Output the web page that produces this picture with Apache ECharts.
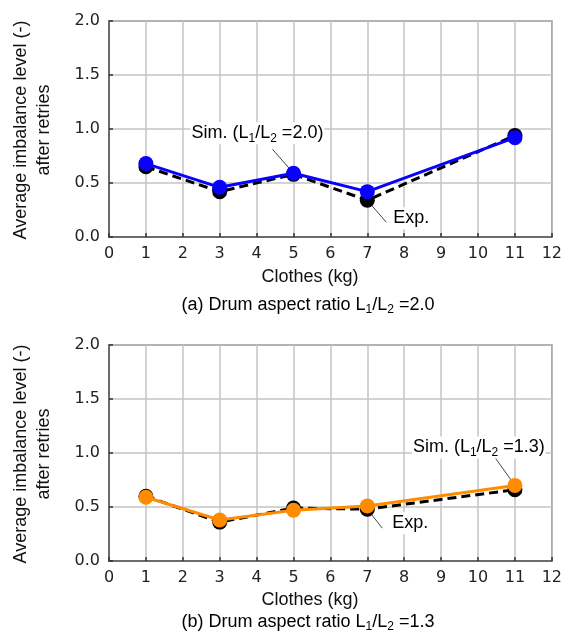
<!DOCTYPE html>
<html><head><meta charset="utf-8">
<script src="https://cdn.jsdelivr.net/npm/echarts@6/dist/echarts.min.js"></script>
<style>html,body{margin:0;padding:0;background:#fff}#c{width:565px;height:631px}</style>
</head><body><div id="c"></div>
<script>
var clothes = [1, 3, 5, 7, 11];
var expA = [0.65, 0.42, 0.58, 0.34, 0.94];
var simA = [0.68, 0.46, 0.59, 0.42, 0.92];
var expB = [0.60, 0.36, 0.49, 0.48, 0.66];
var simB = [0.59, 0.38, 0.47, 0.51, 0.70];
var xTicks = [0,1,2,3,4,5,6,7,8,9,10,11,12];
var yTicks = [0.0, 0.5, 1.0, 1.5, 2.0];

function pairs(xs, ys){ return xs.map(function(x,i){return [x, ys[i]];}); }

var chart = echarts.init(document.getElementById('c'), null, {renderer:'canvas'});
var tickFont = {fontFamily:'DejaVu Sans', fontSize:16, color:'#222'};
var txtFont = 'Liberation Sans';

function xAx(gi){
  return {type:'value', gridIndex:gi, min:xTicks[0], max:xTicks[xTicks.length-1], interval:1,
    axisLine:{show:true, lineStyle:{color:'#555', width:1.5}},
    axisTick:{show:true, inside:true, length:4, lineStyle:{color:'#333', width:1.5}},
    axisLabel:Object.assign({margin:9}, tickFont),
    splitLine:{show:true, lineStyle:{color:'#c4c4c4', width:1.5}}};
}
function yAx(gi){
  return {type:'value', gridIndex:gi, min:yTicks[0], max:yTicks[yTicks.length-1], interval:0.5,
    axisLine:{show:true, lineStyle:{color:'#555', width:1.5}},
    axisTick:{show:true, inside:true, length:4, lineStyle:{color:'#333', width:1.5}},
    axisLabel:Object.assign({margin:9, formatter:function(v){return v.toFixed(1);}}, tickFont),
    splitLine:{show:true, lineStyle:{color:'#c4c4c4', width:1.5}}};
}
function expSeries(gi, data){
  return {type:'line', xAxisIndex:gi, yAxisIndex:gi, data:pairs(clothes,data), symbol:'circle', symbolSize:15,
    itemStyle:{color:'#000'}, lineStyle:{color:'#000', width:3, type:[9,5]}, z:3, animation:false};
}
function simSeries(gi, data, col){
  return {type:'line', xAxisIndex:gi, yAxisIndex:gi, data:pairs(clothes,data), symbol:'circle', symbolSize:15,
    itemStyle:{color:col}, lineStyle:{color:col, width:3}, z:4, animation:false};
}

var richStyles = {
  n:{fontFamily:txtFont, fontSize:18, color:'#111', lineHeight:22},
  s:{fontFamily:txtFont, fontSize:12, color:'#111', lineHeight:22, verticalAlign:'bottom', padding:[7,0,0,0]}
};

chart.setOption({
  animation:false,
  grid:[
    {left:109, right:13, top:21, height:216, show:true, borderColor:'#555', borderWidth:1.5},
    {left:109, right:13, top:345, height:216, show:true, borderColor:'#555', borderWidth:1.5}
  ],
  xAxis:[xAx(0), xAx(1)],
  yAxis:[yAx(0), yAx(1)],
  series:[
    expSeries(0, expA), simSeries(0, simA, '#0a00ff'),
    expSeries(1, expB), simSeries(1, simB, '#ff8c00')
  ]
});

function px(gi, x, y){ return chart.convertToPixel({gridIndex:gi}, [x, y]); }

var g = [];
function note(gi, idx, ys, ldx, ldy, tdx, tdy, text){
  var p = px(gi, clothes[idx], ys[idx]);
  g.push({type:'line', z:1, shape:{x1:p[0], y1:p[1], x2:p[0]+ldx, y2:p[1]+ldy}, style:{stroke:'#444', lineWidth:1}});
  g.push({type:'text', z:100, x:p[0]+tdx, y:p[1]+tdy, style:{text:text, rich:richStyles, align:'left', verticalAlign:'middle', backgroundColor:'#fff', padding:[0,1,0,1]}});
}
note(0, 2, simA, -21, -24, -103, -40, '{n|Sim. (L}{s|1}{n|/L}{s|2}{n| =2.0)}');
note(0, 3, expA, 19, 22, 25, 18, '{n|Exp.}');
note(1, 4, simB, -20, -28, -103, -38, '{n|Sim. (L}{s|1}{n|/L}{s|2}{n| =1.3)}');
note(1, 3, expB, 15, 19, 24, 14, '{n|Exp.}');

function ytitle(cy){
  g.push({type:'text', x:33, y:cy, rotation:Math.PI/2, style:{text:'Average imbalance level (-)\nafter retries', fontFamily:txtFont, fontSize:18, lineHeight:23, fill:'#111', align:'center', verticalAlign:'middle'}});
}
ytitle(130); ytitle(454);
function xtitle(y){
  g.push({type:'text', x:310, y:y, style:{text:'Clothes (kg)', fontFamily:txtFont, fontSize:18, fill:'#111', align:'center', verticalAlign:'middle'}});
}
xtitle(277); xtitle(600);
function caption(y, tag, v){
  g.push({type:'text', x:308, y:y, style:{text:'{n|' + tag + ' Drum aspect ratio L}{s|1}{n|/L}{s|2}{n| =' + v + '}', rich:richStyles, align:'center', verticalAlign:'middle'}});
}
caption(305, '(a)', '2.0'); caption(622, '(b)', '1.3');

chart.setOption({graphic:g});
</script></body></html>
